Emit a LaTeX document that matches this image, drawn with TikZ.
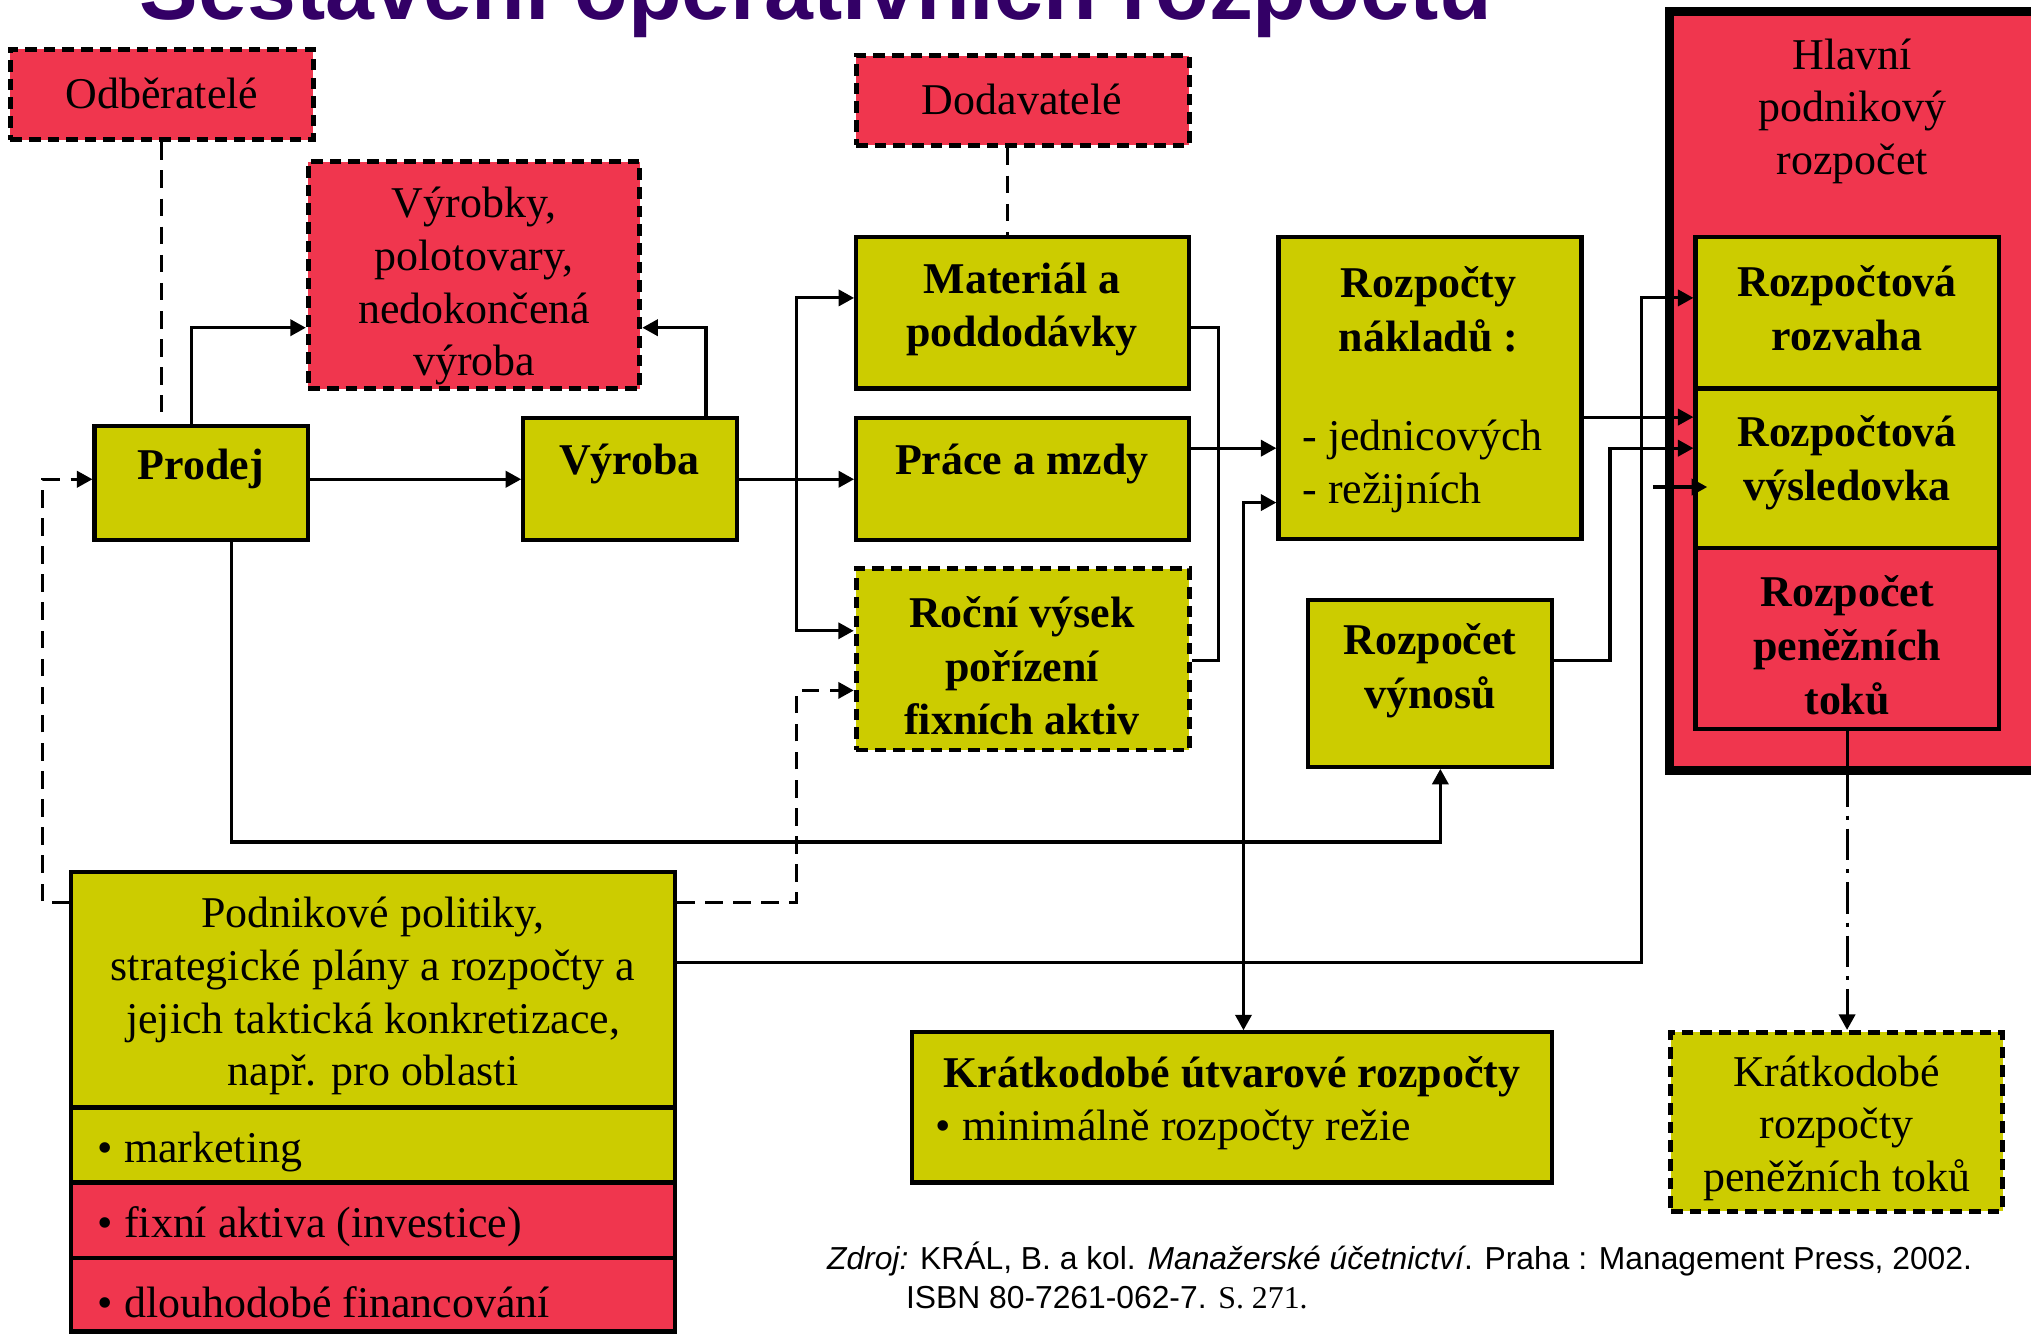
\documentclass[tikz,border=0pt]{standalone}
\usepackage{fontspec}
\setmainfont{Liberation Serif}
\newfontfamily\arialf{Liberation Sans}
\usetikzlibrary{arrows.meta,fit}
\definecolor{redbox}{RGB}{240,54,78}
\definecolor{yelbox}{RGB}{204,204,0}
\definecolor{titlec}{RGB}{51,0,102}
\tikzset{
  boxy/.style={draw, line width=1.2pt, fill=yelbox, inner sep=0pt},
  boxr/.style={draw, line width=1.2pt, fill=redbox, inner sep=0pt},
  dbox/.style={line width=1.4pt, dash pattern=on 3.3pt off 2pt},
  conn/.style={line width=0.9pt, -{Triangle[length=4.4pt,width=4.6pt]}},
  plainline/.style={line width=0.9pt},
  dconn/.style={line width=0.9pt, dash pattern=on 5pt off 3pt},
  ddconn/.style={line width=0.9pt, dash pattern=on 5pt off 3pt, -{Triangle[length=4.4pt,width=4.6pt]}},
  dotconn/.style={line width=0.9pt, dash pattern=on 9pt off 2.5pt on 1.2pt off 2.5pt, -{Triangle[length=4.4pt,width=4.6pt]}},
  txt/.style={inner sep=0pt, align=center, font=\fontsize{12.5}{15}\selectfont},
  btxt/.style={inner sep=0pt, align=center, font=\fontsize{12.5}{15.3}\selectfont\bfseries},
  ltxt/.style={inner sep=0pt, anchor=west, align=left, font=\fontsize{12.5}{15}\selectfont},
  foot/.style={inner sep=0pt, anchor=base west, font=\arialf\fontsize{9.05}{11}\selectfont}
}
\begin{document}
\begin{tikzpicture}[x=0.012953cm,y=-0.012953cm]
\useasboundingbox (0,0) rectangle (1568,1030);
\clip (0,0) rectangle (1568,1030);

% title (clipped at top, as in the reference)
\node[font=\arialf\bfseries\fontsize{25}{30}\selectfont, text=titlec, anchor=base, inner sep=0pt] (title) at (630,15) {Sestavení operativních rozpočtů};

% boxes
\node[boxr, dbox, fit={(8,38) (242,108)}] (odb) {};
\node[boxr, dbox, fit={(661,43) (918,112)}] (dod) {};
\node[boxr, line width=2.6pt, fit={(1289,9) (1585,595)}] (hl) {};
\node[boxy, fit={(1309,183) (1543,300)}] (rozv) {};
\node[boxy, fit={(1309,300) (1543,423)}] (vys) {};
\node[boxr, fit={(1309,423) (1543,563)}] (rpt) {};
\node[boxr, dbox, fit={(238,125) (494,300)}] (vyrobky) {};
\node[boxy, fit={(73,329) (238,417)}] (prodej) {};
\node[boxy, fit={(404,323) (569,417)}] (vyroba) {};
\node[boxy, fit={(661,183) (918,300)}] (mat) {};
\node[boxy, fit={(661,323) (918,417)}] (prace) {};
\node[boxy, dbox, fit={(661,439) (918,579)}] (roc) {};
\node[boxy, fit={(987,183) (1221,416)}] (rn) {};
\node[boxy, fit={(1010,463) (1198,592)}] (rvy) {};
\node[boxy, fit={(55,673) (521,855)}] (pp) {};
\node[boxy, fit={(55,855) (521,913)}] (mk) {};
\node[boxr, fit={(55,913) (521,971)}] (fa) {};
\node[boxr, fit={(55,971) (521,1028)}] (df) {};
\node[boxy, fit={(704,797) (1198,913)}] (kur) {};
\node[boxy, dbox, fit={(1290,797) (1546,935)}] (krp) {};

% helper coordinates
\coordinate (odbEnd) at (125,318);
\coordinate (dodx) at (778,0);
\coordinate (c1) at (148,253);
\coordinate (c2) at (545,253);
\coordinate (y370) at (0,370);
\coordinate (j1) at (615,370);
\coordinate (y230) at (0,230);
\coordinate (y487) at (0,487);
\coordinate (y253) at (0,253);
\coordinate (y510) at (0,510);
\coordinate (x941) at (941,0);
\coordinate (y346) at (0,346);
\coordinate (j2) at (960,743);
\coordinate (y388) at (0,388);
\coordinate (p650) at (179,650);
\coordinate (x1112) at (1112,0);
\coordinate (y743) at (0,743);
\coordinate (x1267) at (1267,0);
\coordinate (y322) at (0,322);
\coordinate (x1243) at (1243,0);
\coordinate (s1) at (1276,376);
\coordinate (s2) at (1318,376);
\coordinate (y697) at (0,697);
\coordinate (x33) at (33,0);
\coordinate (x615) at (615,0);
\coordinate (y533) at (0,533);

% connectors
\draw[dconn] (odb.south) -- (odbEnd);
\draw[dconn] (dodx |- dod.south) -- (dodx |- mat.north);
\draw[conn] (prodej.north -| c1) |- (vyrobky.west |- c1);
\draw[conn] (vyroba.north -| c2) |- (vyrobky.east |- c2);
\draw[conn] (prodej.east |- y370) -- (vyroba.west |- y370);
\draw[conn] (vyroba.east |- y370) -- (prace.west |- y370);
\draw[conn] (j1) |- (mat.west |- y230);
\draw[conn] (j1) |- (roc.west |- y487);
\draw[plainline] (mat.east |- y253) -| (x941 |- y510) -- (roc.east |- y510);
\draw[conn] (prace.east |- y346) -- (rn.west |- y346);
\draw[conn] (j2) |- (rn.west |- y388);
\draw[conn] (j2) -- (j2 |- kur.north);
\draw[conn] (prodej.south -| p650) -- (p650) -| (x1112 |- rvy.south);
\draw[conn] (pp.east |- y743) -| (x1267 |- y230) -- (rozv.west |- y230);
\draw[conn] (rn.east |- y322) -- (vys.west |- y322);
\draw[conn] (rvy.east |- y510) -| (x1243 |- y346) -- (vys.west |- y346);
\draw[conn] (s1) -- (s2);
\draw[plainline] (rpt.south) -- (rpt.south |- hl.south);
\draw[dotconn] (rpt.south |- hl.south) -- (rpt.south |- krp.north);
\draw[ddconn] (pp.west |- y697) -| (x33 |- y370) -- (prodej.west |- y370);
\draw[ddconn] (pp.east |- y697) -| (x615 |- y533) -- (roc.west |- y533);

% texts
\node[txt] (odbT) at (125,72) {Odběratelé};
\node[txt] (dodT) at (789,77) {Dodavatelé};
\node[txt] (hlT) at (1430,86) {Hlavní\\podnikový\\rozpočet};
\node[txt] (vyrobkyT) at (366,221) {Výrobky,\\polotovary,\\nedokončená\\výroba};
\node[btxt] (prodejT) at (155,362) {Prodej};
\node[btxt] (vyrobaT) at (486,358) {Výroba};
\node[btxt] (matT) at (789,239) {Materiál a\\poddodávky};
\node[btxt] (praceT) at (789,358) {Práce a mzdy};
\node[btxt] (rocT) at (789,514) {Roční výsek\\pořízení\\fixních aktiv};
\node[btxt] (rnT) at (1103,239) {Rozpočty\\nákladů :};
\node[ltxt] (rnL) at (1005,360) {- jednicových\\- režijních};
\node[btxt] (rvyT) at (1104,518) {Rozpočet\\výnosů};
\node[btxt] (rozvT) at (1426,238) {Rozpočtová\\rozvaha};
\node[btxt] (vysT) at (1426,357) {Rozpočtová\\výsledovka};
\node[btxt] (rptT) at (1426,498) {Rozpočet\\peněžních\\toků};
\node[txt] (ppT) at (288,769) {Podnikové politiky,\\strategické plány a rozpočty a\\jejich taktická konkretizace,\\např. pro oblasti};
\node[ltxt] (mkT) at (75,889) {• marketing};
\node[ltxt] (faT) at (75,947) {• fixní aktiva (investice)};
\node[ltxt] (dfT) at (75,1005) {• dlouhodobé financování};
\node[btxt] (kurT) at (951,831) {Krátkodobé útvarové rozpočty};
\node[ltxt] (kurL) at (722,872) {• minimálně rozpočty režie};
\node[txt] (krpT) at (1418,871) {Krátkodobé\\rozpočty\\peněžních toků};
\node[foot] (foot1) at (638,980) {\itshape Zdroj:\upshape{} KRÁL, B. a kol. \itshape Manažerské účetnictví\upshape . Praha : Management Press, 2002.};
\node[foot] (foot2) at (699,1010) {ISBN 80-7261-062-7. {\rmfamily S. 271.}};
\end{tikzpicture}
\end{document}
